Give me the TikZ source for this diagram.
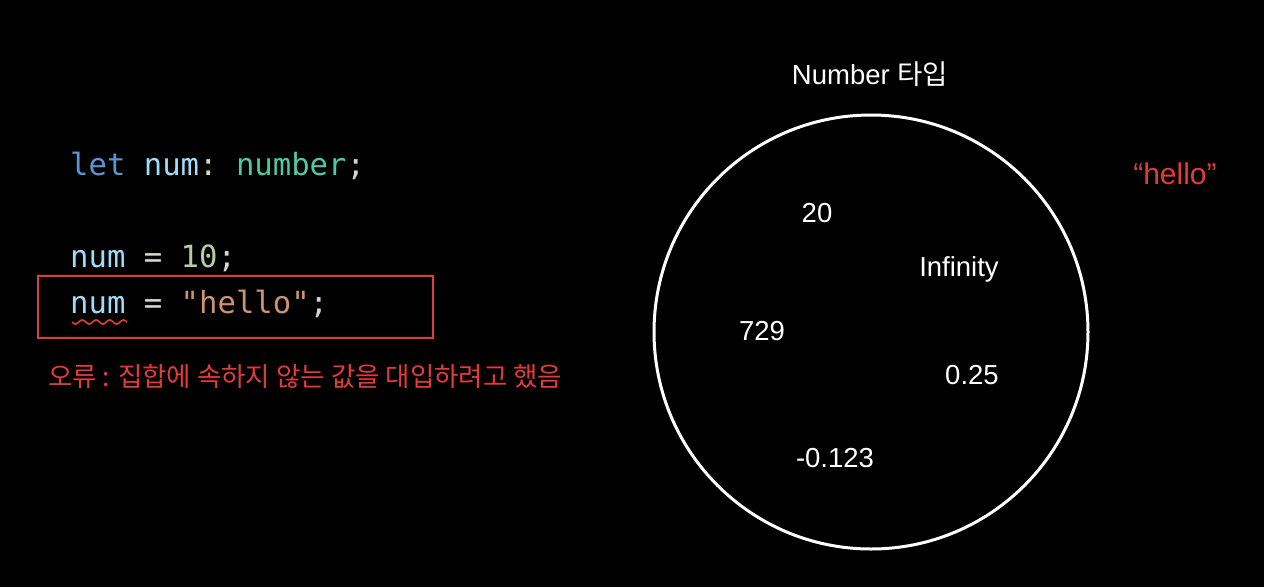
\documentclass[tikz,border=0pt]{standalone}
\usepackage{fontspec}
\setmainfont{Liberation Sans}
\setmonofont{DejaVu Sans Mono}
\newfontfamily\cjk{Noto Sans CJK KR}
\definecolor{kwblue}{RGB}{90,150,210}
\definecolor{varcyan}{RGB}{160,220,250}
\definecolor{typeteal}{RGB}{78,201,166}
\definecolor{numgreen}{RGB}{181,206,160}
\definecolor{strorange}{RGB}{206,145,115}
\definecolor{punct}{RGB}{215,215,205}
\definecolor{errred}{RGB}{228,58,58}
\tikzset{
  codetxt/.style={anchor=base west, inner sep=0pt, font=\ttfamily\fontsize{30.6}{36}\selectfont},
  valtxt/.style={anchor=base, inner sep=0pt, text=white, font=\fontsize{27.5}{32}\selectfont},
  titletxt/.style={anchor=base, inner sep=0pt, text=white, font=\fontsize{27.5}{32}\selectfont},
  errtxt/.style={anchor=base west, inner sep=0pt, text=errred, font=\cjk\fontsize{26.5}{30}\selectfont},
  outtxt/.style={anchor=base, inner sep=0pt, text=errred, font=\fontsize{30}{34}\selectfont},
  errbox/.style={draw=errred, line width=2pt},
  setcircle/.style={draw=white, line width=3pt}
}
\begin{document}
\begin{tikzpicture}[x=1pt,y=-1pt]
\fill[black] (0,0) rectangle (1264,587);
\useasboundingbox (0,0) rectangle (1264,587);
% code
\node[codetxt] (l1) at (70,175) {\textcolor{kwblue}{let} \textcolor{varcyan}{num}\textcolor{punct}{:} \textcolor{typeteal}{number}\textcolor{punct}{;}};
\node[codetxt] (l2) at (70,267) {\textcolor{varcyan}{num} \textcolor{punct}{=} \textcolor{numgreen}{10}\textcolor{punct}{;}};
\node[codetxt] (l3) at (70,313) {\textcolor{varcyan}{num} \textcolor{punct}{=} \textcolor{strorange}{"hello"}\textcolor{punct}{;}};
\draw[errred, line width=1.6pt] plot[domain=72:127, samples=80] (\x, {322+2*sin((\x-72)/13.75*360)});
\node[errbox, minimum width=395pt, minimum height=62pt, anchor=north west, inner sep=0pt] (box) at (37,275) {};
\node[errtxt] (err) at (48,386) {오류 : 집합에 속하지 않는 값을 대입하려고 했음};
% set
\node[setcircle, circle, minimum size=434pt, inner sep=0pt] (set) at (871,332) {};
\node[titletxt] (title) at (870,84) {Number {\cjk 타입}};
\node[valtxt] (v20) at (817,222) {20};
\node[valtxt] (vinf) at (959,276) {Infinity};
\node[valtxt] (v729) at (762,340) {729};
\node[valtxt] (v025) at (972,384) {0.25};
\node[valtxt] (vneg) at (835,467) {-0.123};
\node[outtxt] (hello) at (1175,184) {“hello”};
\end{tikzpicture}
\end{document}
